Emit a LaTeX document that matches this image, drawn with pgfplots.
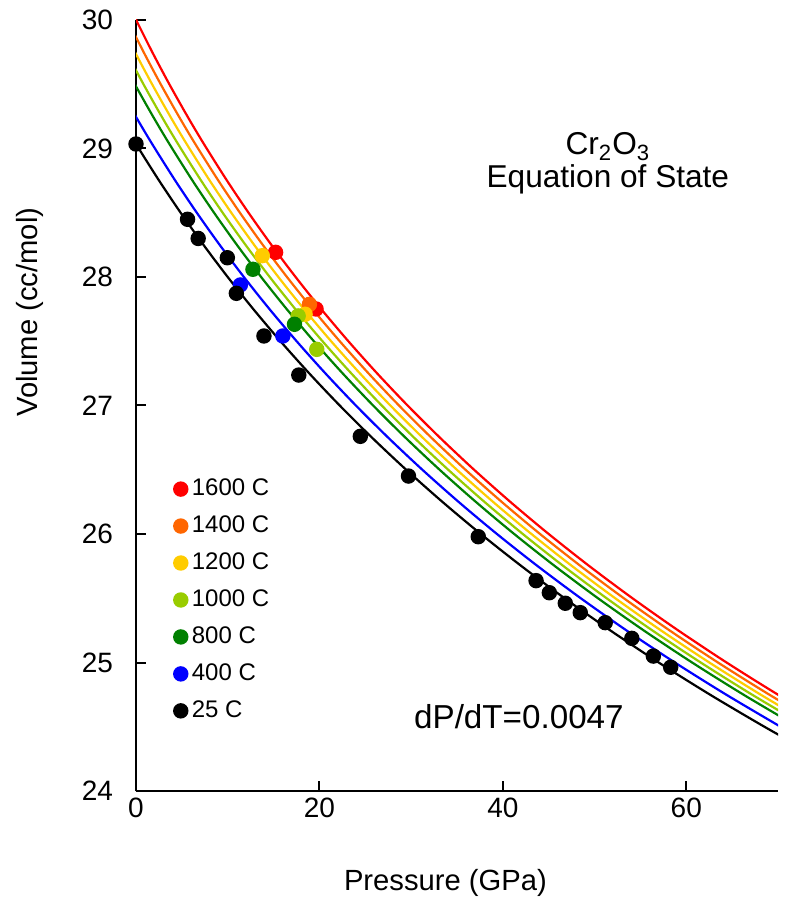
\documentclass[border=0pt]{standalone}
\usepackage{fontspec}
\setmainfont{Liberation Sans}
\usepackage{pgfplots}
\pgfplotsset{compat=1.18}
\definecolor{cR}{RGB}{255,0,0}
\definecolor{cO}{RGB}{255,102,0}
\definecolor{cY}{RGB}{255,204,0}
\definecolor{cL}{RGB}{153,204,0}
\definecolor{cG}{RGB}{0,128,0}
\definecolor{cB}{RGB}{0,0,255}
\definecolor{cK}{RGB}{0,0,0}
\begin{document}
\begin{tikzpicture}
\begin{axis}[
  scale only axis, width=321pt, height=385.5pt,
  xmin=0, xmax=70, ymin=24, ymax=30,
  axis x line*=bottom, axis y line*=left,
  axis line style={line width=1pt, black},
  xtick={0,20,40,60}, ytick={24,25,26,27,28,29,30},
  tick align=inside, major tick length=5pt,
  tick style={line width=1pt, black},
  /pgf/number format/assume math mode=true,
  ticklabel style={font=\fontsize{14}{16}\selectfont},
  yticklabel style={xshift=-8pt},
  xticklabel style={yshift=0pt},
  xlabel={Pressure (GPa)}, ylabel={Volume (cc/mol)},
  label style={font=\fontsize{14.6}{16}\selectfont},
  xlabel style={at={(axis description cs:0.482,-0.1193)}, anchor=center},
  ylabel style={at={(axis description cs:-0.165,0.621)}, anchor=center},
  legend style={at={(axis cs:4.0,26.445)}, anchor=north west, draw=none, fill=none,
    font=\fontsize{12}{14}\selectfont, inner sep=0pt, row sep=6.6pt,
    nodes={inner sep=1pt}},
  legend cell align=left,
  legend image code/.code={\draw[mark=*,#1] plot[only marks] coordinates {(0pt,0pt)}; \path (-3.3pt,0pt) (4pt,0pt);},
  every axis plot/.append style={line width=1.1pt},
]
% ---- EOS curves ----
\addplot[cR, smooth, forget plot] coordinates {(-0.659,30.1) (0.016,30.0) (1.773,29.75) (3.636,29.5) (5.610,29.25) (7.403,29.035) (9.922,28.75) (12.272,28.5) (14.762,28.25) (17.401,28.0) (20.196,27.75) (23.157,27.5) (26.293,27.25) (29.615,27.0) (33.136,26.75) (36.864,26.5) (40.814,26.25) (44.998,26.0) (49.434,25.75) (54.133,25.5) (59.113,25.25) (64.392,25.0) (69.989,24.75) (75.922,24.5)};
\addplot[cO, smooth, forget plot] coordinates {(-0.925,30.0) (0.833,29.75) (2.696,29.5) (4.670,29.25) (6.463,29.035) (8.982,28.75) (11.332,28.5) (13.822,28.25) (16.461,28.0) (19.256,27.75) (22.217,27.5) (25.353,27.25) (28.675,27.0) (32.196,26.75) (35.924,26.5) (39.874,26.25) (44.058,26.0) (48.494,25.75) (53.193,25.5) (58.173,25.25) (63.452,25.0) (69.049,24.75) (74.982,24.5)};
\addplot[cY, smooth, forget plot] coordinates {(-1.865,30.0) (-0.108,29.75) (1.756,29.5) (3.730,29.25) (5.523,29.035) (8.042,28.75) (10.392,28.5) (12.882,28.25) (15.521,28.0) (18.316,27.75) (21.277,27.5) (24.413,27.25) (27.735,27.0) (31.256,26.75) (34.984,26.5) (38.934,26.25) (43.118,26.0) (47.554,25.75) (52.253,25.5) (57.233,25.25) (62.512,25.0) (68.109,24.75) (74.042,24.5)};
\addplot[cL, smooth, forget plot] coordinates {(-1.048,29.75) (0.816,29.5) (2.790,29.25) (4.583,29.035) (7.102,28.75) (9.452,28.5) (11.942,28.25) (14.581,28.0) (17.376,27.75) (20.337,27.5) (23.473,27.25) (26.795,27.0) (30.316,26.75) (34.044,26.5) (37.994,26.25) (42.178,26.0) (46.614,25.75) (51.313,25.5) (56.293,25.25) (61.572,25.0) (67.169,24.75) (73.102,24.5)};
\addplot[cG, smooth, forget plot] coordinates {(-1.988,29.75) (-0.125,29.5) (1.850,29.25) (3.643,29.035) (6.162,28.75) (8.512,28.5) (11.002,28.25) (13.641,28.0) (16.436,27.75) (19.397,27.5) (22.533,27.25) (25.855,27.0) (29.376,26.75) (33.104,26.5) (37.054,26.25) (41.238,26.0) (45.674,25.75) (50.373,25.5) (55.353,25.25) (60.632,25.0) (66.229,24.75) (72.162,24.5)};
\addplot[cB, smooth, forget plot] coordinates {(-2.005,29.5) (-0.031,29.25) (1.763,29.035) (4.282,28.75) (6.632,28.5) (9.122,28.25) (11.761,28.0) (14.556,27.75) (17.517,27.5) (20.653,27.25) (23.975,27.0) (27.496,26.75) (31.224,26.5) (35.174,26.25) (39.358,26.0) (43.794,25.75) (48.493,25.5) (53.473,25.25) (58.752,25.0) (64.349,24.75) (70.282,24.5)};
\addplot[cK, smooth, forget plot] coordinates {(-1.793,29.25) (0,29.035) (2.519,28.75) (4.869,28.5) (7.359,28.25) (9.998,28.0) (12.793,27.75) (15.754,27.5) (18.890,27.25) (22.212,27.0) (25.733,26.75) (29.461,26.5) (33.411,26.25) (37.595,26.0) (42.031,25.75) (46.730,25.5) (51.710,25.25) (56.989,25.0) (62.586,24.75) (68.519,24.5) (73.525,24.3)};
% ---- data points ----
\addplot[only marks, mark=*, mark size=3.3pt, cR] coordinates {(15.22,28.192) (19.63,27.751)};
\addlegendentry{1600 C}
\addplot[only marks, mark=*, mark size=3.3pt, cO] coordinates {(18.91,27.787)};
\addlegendentry{1400 C}
\addplot[only marks, mark=*, mark size=3.3pt, cY] coordinates {(13.77,28.166) (18.44,27.71)};
\addlegendentry{1200 C}
\addplot[only marks, mark=*, mark size=3.3pt, cL] coordinates {(17.68,27.697) (19.71,27.437)};
\addlegendentry{1000 C}
\addplot[only marks, mark=*, mark size=3.3pt, cG] coordinates {(12.75,28.06) (17.28,27.632)};
\addlegendentry{800 C}
\addplot[only marks, mark=*, mark size=3.3pt, cB] coordinates {(11.38,27.938) (16.01,27.541)};
\addlegendentry{400 C}
\addplot[only marks, mark=*, mark size=3.3pt, cK] coordinates {(0,29.035) (5.62,28.449) (6.78,28.30) (9.96,28.15) (10.94,27.873) (13.95,27.541) (17.75,27.237) (24.46,26.76) (29.71,26.451) (37.32,25.979) (43.62,25.637) (45.07,25.543) (46.81,25.461) (48.44,25.388) (51.16,25.31) (54.06,25.188) (56.41,25.05) (58.3,24.963)};
\addlegendentry{25 C}
\node[align=center, font=\fontsize{15.8}{16.5}\selectfont] at (axis cs:51.45,28.885) {Cr\textsubscript{2}O\textsubscript{3}\\Equation of State};
\node[font=\fontsize{16.6}{18}\selectfont] at (axis cs:41.75,24.576) {dP/dT=0.0047};
\end{axis}
\pgfresetboundingbox
\path[use as bounding box] ([shift={(-68pt,-55pt)}]current axis.south west) rectangle ([shift={(4pt,10pt)}]current axis.north east);
\end{tikzpicture}
\end{document}
